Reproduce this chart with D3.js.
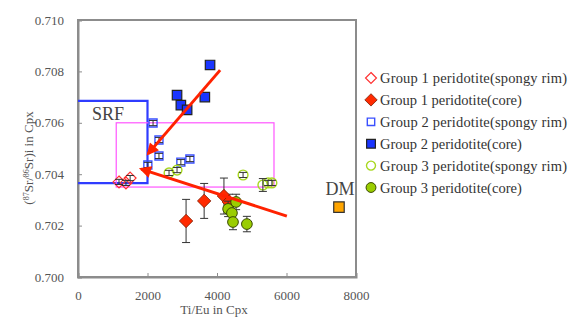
<!DOCTYPE html>
<html>
<head>
<meta charset="utf-8">
<script src="https://cdn.jsdelivr.net/npm/d3@7"></script>
<style>
  body { margin: 0; background: #fff; }
</style>
</head>
<body>
<svg id="chart" width="571" height="320"></svg>
<script>
// values
const xTicks = [0, 2000, 4000, 6000, 8000];
const yTicks = [0.700, 0.702, 0.704, 0.706, 0.708, 0.710];

const g1Rim = { x: [1180, 1380, 1500], y: [0.70370, 0.70366, 0.70385], err: [0.0001, 0.0001, 0.0001] };
const g1Core = { x: [3110, 3630, 4200, 4340], y: [0.70218, 0.70296, 0.70315, 0.70292], err: [0.00084, 0.00068, 0.0007, 0.0003] };
const g2Rim = { x: [2160, 2330, 2330, 2010, 2960, 3220], y: [0.70599, 0.70533, 0.70471, 0.70436, 0.70447, 0.70459], err: [0.0001, 0.0001, 0.0001, 0.0001, 0.0001, 0.0001] };
const g2Core = { x: [3800, 2850, 2960, 3140, 3650], y: [0.70825, 0.70708, 0.70669, 0.70650, 0.70700], err: [0, 0, 0, 0, 0] };
const g3Rim = { x: [2620, 2850, 4750, 5320, 5470, 5580], y: [0.70405, 0.70416, 0.70397, 0.70358, 0.70366, 0.70366], err: [0.0001, 0.0001, 0.0001, 0.00025, 0.0001, 0.0001] };
const g3Core = { x: [4320, 4430, 4550, 4460, 4860], y: [0.70265, 0.70249, 0.70292, 0.70214, 0.70206], err: [0.0003, 0.0003, 0.0003, 0.0003, 0.0003] };
const dm = { x: [7510], y: [0.70272] };

const srfLine = { x: [0, 2000, 2000, 0], y: [0.70685, 0.70685, 0.70365, 0.70365] };
const boxX = [1100, 5640];
const boxY = [0.7035, 0.7060];
const arrowStart = { x: [4090, 6010], y: [0.70805, 0.70237] };
const arrowEnd = { x: [2020, 1820], y: [0.70480, 0.70420] };

const legendLabels = [
  'Group 1 peridotite(spongy rim)',
  'Group 1 peridotite(core)',
  'Group 2 peridotite(spongy rim)',
  'Group 2 peridotite(core)',
  'Group 3 peridotite(spongy rim)',
  'Group 3 peridotite(core)'
];

const serif = '"Liberation Serif", "Times New Roman", serif';
const margin = {left: 78, right: 215, top: 20, bottom: 43};
const width = 571, height = 320;

const svg = d3.select('#chart').attr('font-family', serif);
const x = d3.scaleLinear().domain([0, 8000]).range([margin.left, width - margin.right]);
const y = d3.scaleLinear().domain([0.700, 0.710]).range([height - margin.bottom, margin.top]);

// square turned 45 degrees, like the spreadsheet diamond
const diamond = {
  draw(context, size) {
    const r = Math.sqrt(size / 2);
    context.moveTo(0, -r);
    context.lineTo(r, 0);
    context.lineTo(0, r);
    context.lineTo(-r, 0);
    context.closePath();
  }
};

// frame
svg.append('rect')
  .attr('x', x(0)).attr('y', y(0.710))
  .attr('width', x(8000) - x(0)).attr('height', y(0.700) - y(0.710))
  .attr('fill', 'none').attr('stroke', '#8c8c8c').attr('stroke-width', 2);

// axes with inner ticks
const xAxis = svg.append('g')
  .attr('transform', `translate(0,${y(0.700)})`)
  .call(d3.axisBottom(x).tickValues(xTicks).tickSize(-4).tickPadding(14).tickFormat(d3.format('d')));
const yAxis = svg.append('g')
  .attr('transform', `translate(${x(0)},0)`)
  .call(d3.axisLeft(y).tickValues(yTicks).tickSize(-4).tickPadding(14).tickFormat(d3.format('.3f')));
[xAxis, yAxis].forEach(a => {
  a.attr('font-family', serif);
  a.select('.domain').attr('stroke', '#8c8c8c').attr('stroke-width', 2);
  a.selectAll('.tick line').attr('stroke', '#8c8c8c');
  a.selectAll('.tick text')
    .attr('fill', '#555')
    .attr('font-size', 13);
});
xAxis.selectAll('.tick').filter(d => d === 0 || d === 8000).select('line').remove();

// axis titles
svg.append('text')
  .attr('x', 214).attr('y', 314)
  .attr('text-anchor', 'middle')
  .attr('font-size', 13).attr('fill', '#555')
  .text('Ti/Eu in Cpx');

const yTitle = svg.append('text')
  .attr('transform', 'translate(33,158) rotate(-90)')
  .attr('text-anchor', 'middle')
  .attr('font-size', 13).attr('fill', '#555');
yTitle.append('tspan').text('(');
yTitle.append('tspan').attr('baseline-shift', 'super').attr('font-size', 8).text('87');
yTitle.append('tspan').text('Sr/');
yTitle.append('tspan').attr('baseline-shift', 'super').attr('font-size', 8).text('86');
yTitle.append('tspan').text('Sr)i in Cpx');

// SRF field
svg.append('path')
  .attr('d', d3.line().x(d => x(d[0])).y(d => y(d[1]))(srfLine.x.map((v, i) => [v, srfLine.y[i]])))
  .attr('fill', 'none').attr('stroke', '#2f3cff').attr('stroke-width', 2.2);
svg.append('text')
  .attr('x', 92).attr('y', 120)
  .attr('font-size', 18).attr('fill', '#444')
  .text('SRF');

// magenta box
svg.append('rect')
  .attr('x', x(boxX[0])).attr('y', y(boxY[1]))
  .attr('width', x(boxX[1]) - x(boxX[0])).attr('height', y(boxY[0]) - y(boxY[1]))
  .attr('fill', 'none').attr('stroke', '#ff55ff').attr('stroke-width', 1.2);

// DM
svg.append('text')
  .attr('x', x(dm.x[0]) + 1).attr('y', 195)
  .attr('text-anchor', 'middle')
  .attr('font-size', 18).attr('fill', '#444')
  .text('DM');

const groups = [
  {data: g1Rim, shape: diamond, size: 70, fill: '#fff', stroke: '#ff3030', sw: 1.2},
  {data: g1Core, shape: diamond, size: 90, fill: '#ff2a00', stroke: '#7a1a00', sw: 0.8},
  {data: g2Rim, shape: d3.symbolSquare, size: 64, fill: '#fff', stroke: '#3a50ff', sw: 1.4},
  {data: g2Core, shape: d3.symbolSquare, size: 90, fill: '#1a35ff', stroke: '#222', sw: 1.2},
  {data: g3Rim, shape: d3.symbolCircle, size: 75, fill: '#fff', stroke: '#a8d820', sw: 1.4},
  {data: g3Core, shape: d3.symbolCircle, size: 90, fill: '#9acd00', stroke: '#3a4a00', sw: 1}
];

const points = svg.append('g');
groups.forEach(grp => {
  const pts = grp.data.x.map((v, i) => ({x: v, y: grp.data.y[i], e: grp.data.err[i]}));
  const bars = points.append('g').attr('stroke', '#333').attr('stroke-width', 1);
  pts.filter(p => p.e > 0).forEach(p => {
    const cx = x(p.x), y0 = y(p.y - p.e), y1 = y(p.y + p.e);
    bars.append('line').attr('x1', cx).attr('x2', cx).attr('y1', y0).attr('y2', y1);
    bars.append('line').attr('x1', cx - 4).attr('x2', cx + 4).attr('y1', y0).attr('y2', y0);
    bars.append('line').attr('x1', cx - 4).attr('x2', cx + 4).attr('y1', y1).attr('y2', y1);
  });
  points.append('g').selectAll('path')
    .data(pts)
    .enter().append('path')
    .attr('d', d3.symbol().type(grp.shape).size(grp.size))
    .attr('transform', p => `translate(${x(p.x)},${y(p.y)})`)
    .attr('fill', grp.fill)
    .attr('fill-opacity', grp.fill === '#fff' ? 0 : 1)
    .attr('stroke', grp.stroke)
    .attr('stroke-width', grp.sw);
  if (grp.fill === '#fff') {
    // small inner error bars show through the open symbols
    bars.raise();
  }
});

svg.append('path')
  .attr('d', d3.symbol().type(d3.symbolSquare).size(110))
  .attr('transform', `translate(${x(dm.x[0])},${y(dm.y[0])})`)
  .attr('fill', '#ffa500').attr('stroke', '#333').attr('stroke-width', 1.2);

// arrows
svg.append('defs').append('marker')
  .attr('id', 'head')
  .attr('viewBox', '0 0 10 10')
  .attr('refX', 8).attr('refY', 5)
  .attr('markerWidth', 4.5).attr('markerHeight', 4)
  .attr('orient', 'auto')
  .append('path').attr('d', 'M0,0 L10,5 L0,10 z').attr('fill', '#ff2200');

svg.append('g').selectAll('line')
  .data(arrowStart.x.map((v, i) => i))
  .enter().append('line')
  .attr('x1', i => x(arrowStart.x[i])).attr('y1', i => y(arrowStart.y[i]))
  .attr('x2', i => x(arrowEnd.x[i])).attr('y2', i => y(arrowEnd.y[i]))
  .attr('stroke', '#ff2200').attr('stroke-width', 3)
  .attr('marker-end', 'url(#head)');

// legend
const legend = svg.append('g').attr('transform', 'translate(371,78)');
const rows = legend.selectAll('g')
  .data(groups)
  .enter().append('g')
  .attr('transform', (d, i) => `translate(0,${i * 21.9})`);
rows.append('path')
  .attr('d', d => d3.symbol().type(d.shape).size(d.size * 0.85)())
  .attr('fill', d => d.fill)
  .attr('stroke', d => d.stroke)
  .attr('stroke-width', d => d.sw);
rows.append('text')
  .attr('x', 9).attr('y', 5)
  .attr('font-size', 14.5).attr('fill', '#333')
  .attr('textLength', (d, i) => i % 2 === 0 ? 187 : null)
  .text((d, i) => legendLabels[i]);
</script>
</body>
</html>
